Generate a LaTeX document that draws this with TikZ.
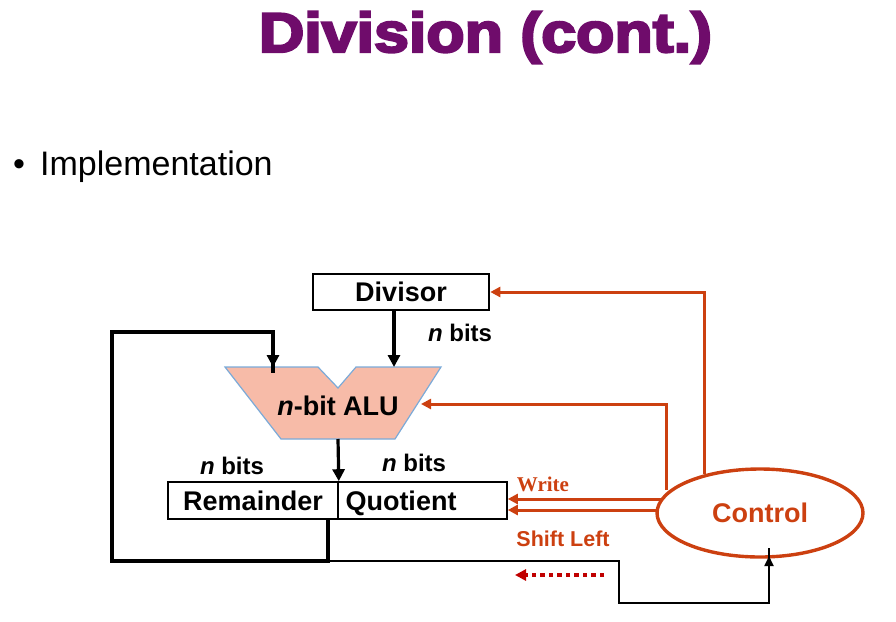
\documentclass[tikz,border=0pt]{standalone}
\usepackage{fontspec}
\usepackage{graphicx}
\setmainfont{Liberation Sans}
\newfontfamily\wserif{Liberation Serif}
\newfontfamily\heavy{Liberation Sans Bold}[FakeBold=4]
\usetikzlibrary{arrows.meta,shapes.geometric}
\definecolor{ctl}{HTML}{CC4010}
\definecolor{dotred}{HTML}{C00000}
\definecolor{alufill}{HTML}{F7BBA8}
\definecolor{aluline}{HTML}{7BAAD8}
\definecolor{titlec}{HTML}{6F0C6B}
\tikzset{
  regbox/.style={draw, line width=1.6pt, inner sep=0pt, text height=19.5pt, text depth=0pt,
    font=\fontsize{27}{30}\selectfont\bfseries},
  lbl/.style={inner sep=0pt, font=\fontsize{24}{28}\selectfont\bfseries},
  blkarrow/.style={line width=3.2pt, -{Triangle[length=12pt,width=12pt]}},
  thickline/.style={line width=3.8pt, line join=miter},
  thinline/.style={line width=1.8pt},
  ctlarrow/.style={ctl, line width=3pt, -{Triangle[length=10pt,width=10pt]}},
  redlbl/.style={inner sep=0pt, text=ctl},
}
\begin{document}
\begin{tikzpicture}[x=1pt,y=-1pt]
\useasboundingbox (0,0) rectangle (896,621);
% title and bullet
\node[inner sep=0pt, anchor=base, text=titlec] (title) at (485.5,52)
  {\scalebox{1.12}[1]{\fontsize{56}{60}\selectfont\heavy Division (cont.)}};
\node[inner sep=0pt, anchor=base] (bul) at (19,175) {\fontsize{34}{40}\selectfont •};
\node[inner sep=0pt, anchor=base west] (impl) at (40,175) {\fontsize{34}{40}\selectfont Implementation};
% divisor
\node[regbox, line width=2.6pt, minimum width=176pt, minimum height=36pt] (div) at (401,292) {Divisor};
\node[lbl] (nb1) at (460,333) {\textit{n} bits};
% ALU
\draw[fill=alufill, draw=aluline, line width=1.2pt]
  (225,367) -- (318,367) -- (338,388) -- (356,367) -- (441,367) -- (395,439) -- (281,439) -- cycle;
\node[inner sep=0pt, font=\fontsize{27}{30}\selectfont\bfseries] (alu) at (338,406) {\textit{n}-bit ALU};
\coordinate (aluL) at (273,367);
\coordinate (aluR) at (394,367);
\coordinate (aluB) at (338,439);
\coordinate (aluE) at (421,404);
% remainder / quotient
\node[regbox, minimum width=170pt, minimum height=37pt] (rem) at (253,500.5) {Remainder};
\node[regbox, minimum width=169pt, minimum height=37pt, text width=154pt, align=left] (quo) at (422.5,500.5) {Quotient};
\node[lbl] (nb2) at (232,466) {\textit{n} bits};
\node[lbl] (nb3) at (414,463) {\textit{n} bits};
% control
\node[draw=ctl, line width=3.4pt, ellipse, minimum width=206pt, minimum height=88pt, inner sep=0pt,
      text=ctl, text height=19.5pt, text depth=0pt, font=\fontsize{27}{30}\selectfont\bfseries] (ctrl) at (760,513) {Control};
\coordinate (cDiv) at (704,474);
\coordinate (cAlu) at (666,490);
\coordinate (cW) at (661,499);
\coordinate (cS) at (657,510);
\coordinate (cIn) at (769,556);
% black connections
\draw[blkarrow] (div.south -| aluR) -- (aluR);
\draw[blkarrow] (aluB) -- (rem.north east);
\coordinate (remB) at (328,519);
\coordinate (fbA) at (328,561);
\coordinate (fbB) at (112,561);
\coordinate (fbC) at (112,332);
\coordinate (fbD) at (273,332);
\draw[thickline] (remB) -- (fbA) -- (fbB) -- (fbC) -- (fbD) -- ([yshift=-6pt]aluL);
\draw[blkarrow] (fbD) -- (aluL);
\coordinate (tA) at (619,561);
\coordinate (tB) at (619,603);
\coordinate (tC) at (769,603);
\draw[thinline] (fbA) -- (tA) -- (tB) -- (tC) -- ([yshift=8pt]cIn);
\draw[thinline, -{Triangle[length=10pt,width=9pt]}] (tC) -- (cIn);
% red connections
\draw[ctlarrow] (cDiv) |- (div.east);
\draw[ctlarrow] (cAlu) |- (aluE);
\draw[ctlarrow] (cW) -- (cW -| quo.east);
\draw[ctlarrow] (cS) -- (cS -| quo.east);
\node[redlbl, font=\fontsize{21}{24}\selectfont\wserif\bfseries] (wr) at (543,484) {Write};
\node[redlbl, font=\fontsize{21.5}{24}\selectfont\bfseries] (sl) at (563,539) {Shift Left};
% dotted arrow
\coordinate (dS) at (604,575);
\coordinate (dE) at (515,575);
\draw[dotred, line width=3.8pt, dash pattern=on 4.5pt off 4pt, -{Triangle[length=11pt,width=11pt]}] (dS) -- (dE);
\end{tikzpicture}
\end{document}
